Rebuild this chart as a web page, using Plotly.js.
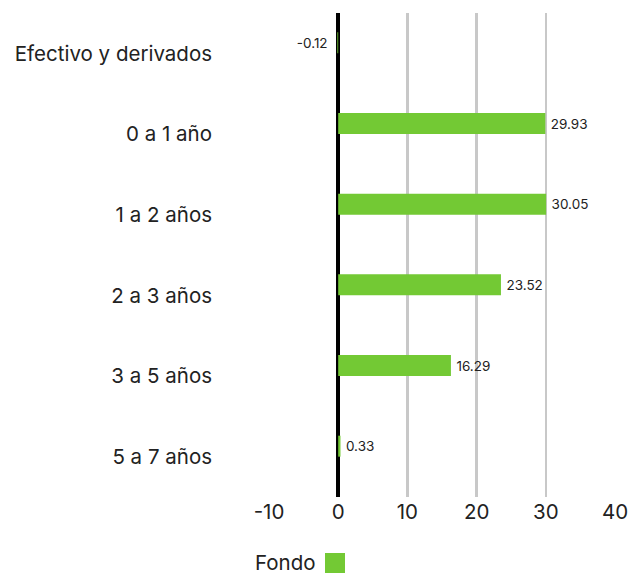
<!DOCTYPE html>
<html>
<head>
<meta charset="utf-8">
<script src="https://cdn.plot.ly/plotly-3.0.1.min.js"></script>
<style>html,body{margin:0;padding:0;background:#fff;}#chart{width:629px;height:574px;}</style>
</head>
<body>
<div id="chart"></div>
<script>
const categories = ["Efectivo y derivados", "0 a 1 año", "1 a 2 años", "2 a 3 años", "3 a 5 años", "5 a 7 años"];
const fondoValues = [-0.12, 29.93, 30.05, 23.52, 16.29, 0.33];
const seriesName = "Fondo";
const xTickVals = [-10, 0, 10, 20, 30, 40];

const green = "#73c934";
const fontFam = "Inter, 'Noto Sans', sans-serif";

const trace = {
  type: "bar",
  orientation: "h",
  y: categories,
  x: fondoValues,
  name: seriesName,
  marker: {color: green},
  width: 0.26,
  offset: -0.26,
  text: fondoValues.map(v => v < 0 ? v.toFixed(2) + "\u2002" : "\u2009" + v.toFixed(2)),
  textposition: "outside",
  textfont: {family: fontFam, size: 13.5, color: "#222"},
  cliponaxis: false,
  showlegend: false,
  hoverinfo: "skip"
};

const layout = {
  width: 629, height: 574,
  margin: {l: 269, r: 14, t: 13, b: 77},
  paper_bgcolor: "#fff", plot_bgcolor: "#fff",
  font: {family: fontFam, color: "#222"},
  showlegend: false,
  xaxis: {
    range: [-10, 40],
    tickvals: xTickVals,
    ticktext: xTickVals.map(String),
    showgrid: true, gridcolor: "#c8c8c8", gridwidth: 2.5,
    zeroline: true, zerolinecolor: "#000", zerolinewidth: 4,
    showline: false, ticks: "",
    tickfont: {family: fontFam, size: 20.5, color: "#222"},
    fixedrange: true
  },
  yaxis: {
    type: "category",
    autorange: "reversed",
    showgrid: false, zeroline: false, showline: false, ticks: "",
    ticklabelstandoff: 56,
    tickfont: {family: fontFam, size: 20.5, color: "#222"},
    fixedrange: true
  },
  annotations: [{
    xref: "paper", yref: "paper",
    x: (318 - 269) / 346, y: -(563 - 497) / 484,
    xanchor: "right", yanchor: "middle",
    text: seriesName, showarrow: false,
    font: {family: fontFam, size: 20.5, color: "#222"}
  }],
  shapes: [{
    type: "rect", xref: "paper", yref: "paper",
    x0: (325 - 269) / 346, x1: (345 - 269) / 346,
    y0: -(573 - 497) / 484, y1: -(553 - 497) / 484,
    fillcolor: green, line: {width: 0}
  }]
};

Plotly.newPlot("chart", [trace], layout, {displayModeBar: false, staticPlot: true});
</script>
</body>
</html>
